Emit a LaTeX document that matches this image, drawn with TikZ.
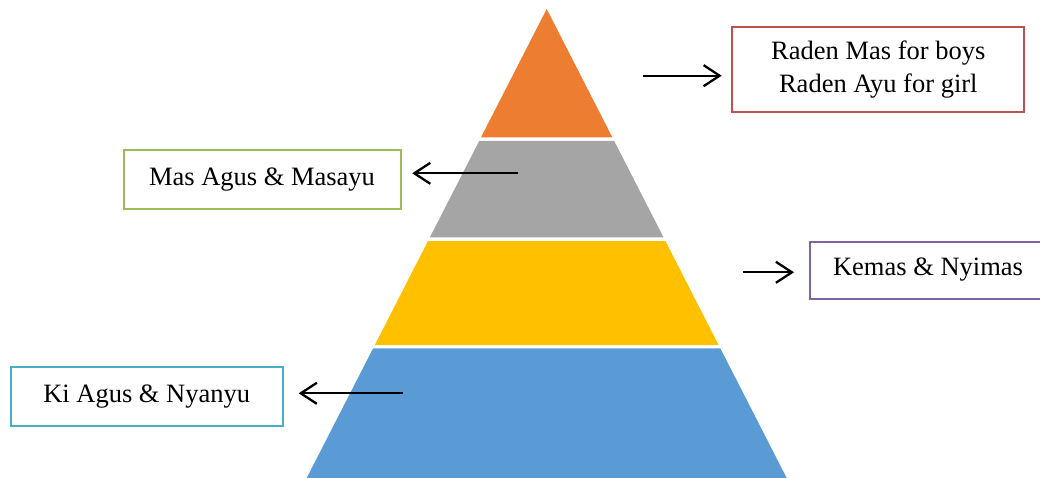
\documentclass[tikz,border=0pt]{standalone}
\usepackage{fontspec}
\setmainfont{Liberation Serif}
\usetikzlibrary{arrows.meta}
\definecolor{cOrange}{HTML}{ED7D31}
\definecolor{cGray}{HTML}{A5A5A5}
\definecolor{cYellow}{HTML}{FFC000}
\definecolor{cBlue}{HTML}{5B9BD5}
\definecolor{bRed}{RGB}{192,80,77}
\definecolor{bGreen}{RGB}{155,187,89}
\definecolor{bPurple}{RGB}{128,100,162}
\definecolor{bCyan}{RGB}{75,172,198}
\tikzset{
  lbox/.style={draw=#1, line width=2pt, fill=white, inner sep=0pt, align=center,
    font=\fontsize{26.5}{33}\selectfont},
  arr/.style={line width=2.3pt, -{Straight Barb[length=16pt,width=21pt,line width=2.3pt]}}
}
\begin{document}
\begin{tikzpicture}[x=1pt,y=-1pt]
\useasboundingbox (0,0) rectangle (1040,478);
% pyramid layers
\fill[cOrange] (546.7,9) -- (612.3,137.3) -- (481.0,137.3) -- cycle;
\fill[cGray] (479.2,141) -- (614.2,141) -- (663.5,237.3) -- (429.9,237.3) -- cycle;
\fill[cYellow] (428.0,241) -- (665.4,241) -- (718.6,345) -- (374.8,345) -- cycle;
\fill[cBlue] (373.1,348.3) -- (720.3,348.3) -- (786.7,478) -- (306.7,478) -- cycle;
% boxes
\node[lbox=bRed, minimum width=292pt, minimum height=85pt] (raden) at (878.3,69.2)
  {Raden Mas for boys\\Raden Ayu for girl};
\node[lbox=bGreen, minimum width=277pt, minimum height=59pt] (mas) at (262,179.8)
  {Mas Agus \& Masayu};
\node[lbox=bPurple, minimum width=236pt, minimum height=57pt] (kemas) at (928,270)
  {Kemas \& Nyimas};
\node[lbox=bCyan, minimum width=272pt, minimum height=59pt] (ki) at (146.7,396.2)
  {Ki Agus \& Nyanyu};
% arrow tails
\coordinate (t1) at (642.7,75.7);
\coordinate (t2) at (518.3,173.3);
\coordinate (t3) at (742.7,272.3);
\coordinate (t4) at (403.3,393.3);
\draw[arr, shorten >=9.6pt] (t1) -- (t1 -| raden.west);
\draw[arr, shorten >=10.7pt] (t2) -- (t2 -| mas.east);
\draw[arr, shorten >=15pt] (t3) -- (t3 -| kemas.west);
\draw[arr, shorten >=15pt] (t4) -- (t4 -| ki.east);
\end{tikzpicture}
\end{document}
